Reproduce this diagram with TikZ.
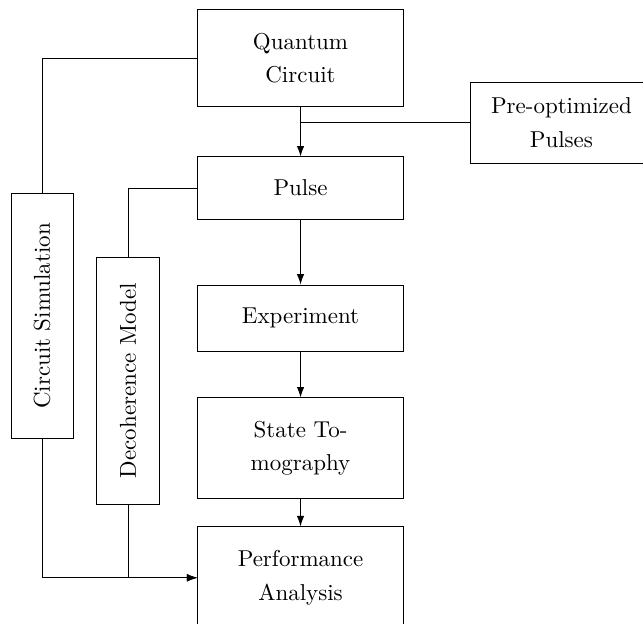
\documentclass[tikz,border=0pt]{standalone}
\usepackage{tikz}
\usetikzlibrary{positioning, arrows.meta, calc}
\tikzset{
  flowBox/.style={rectangle, minimum width=3.14cm, align=center, draw=black, font=\fontsize{10}{14.6}\selectfont, inner sep=2pt},
  flowSide/.style={rectangle, minimum width=0.95cm, align=center, draw=black, font=\fontsize{10}{14.6}\selectfont, inner sep=2pt},
  flowArr/.style={->, >={Latex[length=1.6mm, width=1.15mm]}},
}
\begin{document}
\begin{tikzpicture}[node distance=0.7cm]
\useasboundingbox (0,0) rectangle (9.838,-9.532);
% Main column
\node (qc) [flowBox, minimum height=1.47cm] at (4.598,-0.887) {Quantum\\Circuit};
\node (pulse) [flowBox, minimum height=0.95cm, below=0.765cm of qc] {Pulse};
\node (exp) [flowBox, minimum height=1.01cm, below=0.995cm of pulse] {Experiment};
\node (st) [flowBox, minimum height=1.545cm, below=0.704cm of exp] {State To-\\mography};
\node (pa) [flowBox, minimum height=1.56cm, below=0.413cm of st] {Performance\\Analysis};

% Side inputs
\node (po) [flowBox, minimum width=2.77cm, minimum height=1.24cm] at (8.59,-1.874) {Pre-optimized\\Pulses};
\node (cs) [flowSide, minimum height=3.76cm] at (0.643,-4.835) {\rotatebox{90}{Circuit Simulation}};
\node (dm) [flowSide, minimum height=3.78cm] at (1.958,-5.822) {\rotatebox{90}{Decoherence Model}};

\draw [flowArr] (qc) -- (pulse);
\draw (po.west) -- (po.west -| qc.south);
\draw [flowArr] (pulse) -- (exp);
\draw [flowArr] (exp) -- (st);
\draw [flowArr] (st) -- (pa);

% Feedback lines
\draw (cs.north) |- (qc.west);
\draw (dm.north) |- (pulse.west);
\draw [flowArr] (cs.south) |- (pa.west);
\draw [flowArr] (dm.south) |- (pa.west);
\end{tikzpicture}
\end{document}
